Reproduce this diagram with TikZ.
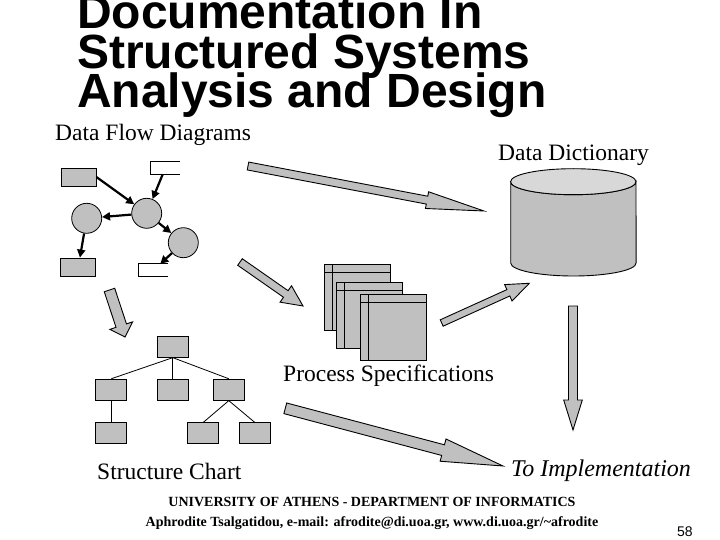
\documentclass[tikz,border=0pt]{standalone}
\usepackage{fontspec}
\setmainfont{Liberation Serif}
\setsansfont{Liberation Sans}
\usetikzlibrary{arrows.meta,calc}
\definecolor{slidegray}{RGB}{192,192,192}
\definecolor{lidgray}{RGB}{216,216,216}

% fat outlined arrow: tail, tip, half shaft, head length, half head
\newcommand{\blockarrow}[5]{%
  \path ($(#2)!#4!(#1)$) coordinate (neck);
  \draw[fat] ($(#1)!#3!90:(#2)$) -- ($(neck)!#3!90:(#2)$) -- ($(neck)!#5!90:(#2)$) -- (#2)
    -- ($(neck)!#5!-90:(#2)$) -- ($(neck)!#3!-90:(#2)$) -- ($(#1)!#3!-90:(#2)$) -- cycle;
}

\begin{document}
\begin{tikzpicture}[x=1pt, y=-1pt,
  ext/.style={draw, fill=slidegray, minimum width=35pt, minimum height=18pt, inner sep=0pt, line width=0.8pt},
  store/.style={minimum width=29pt, minimum height=12pt, inner sep=0pt},
  proc/.style={circle, draw, fill=slidegray, minimum size=30pt, inner sep=0pt, line width=0.8pt},
  flow/.style={-{Triangle[length=8pt,width=8pt]}, line width=2.2pt},
  module/.style={draw, fill=slidegray, minimum width=31pt, minimum height=21pt, inner sep=0pt, line width=0.9pt},
  call/.style={line width=0.8pt},
  fat/.style={fill=slidegray, line width=0.9pt, line join=miter},
  heading/.style={inner sep=0pt, anchor=base west, font=\sffamily\bfseries\fontsize{48}{40}\selectfont},
  caption/.style={inner sep=0pt, anchor=base west, font=\fontsize{23.5}{28}\selectfont},
  footer/.style={inner sep=0pt, anchor=base, font=\bfseries\fontsize{14}{16}\selectfont}
]
\useasboundingbox (0,0) rectangle (720,540);

% title
\node[heading] (title1) at (77,29) {Documentation In};
\node[heading] (title2) at (77,68.5) {Structured Systems};
\node[heading] (title3) at (77,108) {Analysis and Design};

% data flow diagram
\node[caption] (dfdlabel) at (55,141) {Data Flow Diagrams};
\node[ext] (ext1) at (78.5,177) {};
\node[store] (store1) at (165.3,168) {};
\draw[line width=0.8pt] (store1.north east) -| (store1.south west) -- (store1.south east);
\node[proc] (proc1) at (146.7,213.3) {};
\node[proc] (proc2) at (86.7,218.3) {};
\node[proc] (proc3) at (183.3,242.7) {};
\node[ext] (ext2) at (78.3,267) {};
\node[store] (store2) at (153.5,270) {};
\draw[line width=0.8pt] (store2.north east) -| (store2.south west) -- (store2.south east);
\draw[flow] (ext1.east) -- (proc1);
\draw[flow] (store1) -- (proc1);
\draw[flow] (proc1) -- (proc2);
\draw[flow] (proc2) -- (ext2);
\draw[flow] (proc1) -- (proc3);
\draw[flow] (proc3) -- (store2);

% data dictionary
\node[caption] (dictlabel) at (498,161) {Data Dictionary};
\draw[fill=slidegray, line width=0.9pt] (510.7,181.7) -- (510.7,263)
  arc[start angle=180, end angle=0, x radius=62.7, y radius=13] -- (636,181.7)
  arc[start angle=0, end angle=180, x radius=62.7, y radius=13] -- cycle;
\draw[fill=lidgray, line width=0.9pt] (573.3,181.7) ellipse[x radius=62.7, y radius=13];

% process specifications
\foreach \px/\py in {324.3/264, 336/282.3, 360/294.3} {
  \draw[fill=slidegray, line width=0.9pt] (\px,\py) rectangle ++(66.5,66);
  \draw[line width=0.9pt] (\px,\py+8) -- ++(66.5,0);
  \draw[line width=0.9pt] (\px+8,\py) -- ++(0,66);
}
\node[caption] (speclabel) at (283,381) {Process Specifications};

% structure chart
\node[module] (sc0) at (172.8,346.7) {};
\node[module] (sc1) at (111.3,389.7) {};
\node[module] (sc2) at (172.8,389.7) {};
\node[module] (sc3) at (228.8,389.7) {};
\node[module] (sc4) at (111.3,433.3) {};
\node[module] (sc5) at (203.3,433.3) {};
\node[module] (sc6) at (254.7,433.3) {};
\draw[call] (sc0.south) -- (sc1.north);
\draw[call] (sc0.south) -- (sc2.north);
\draw[call] (sc0.south) -- (sc3.north);
\draw[call] (sc1.south) -- (sc4.north);
\draw[call] (sc3.south) -- (sc5.north);
\draw[call] (sc3.south) -- (sc6.north);
\node[caption] (chartlabel) at (97,479) {Structure Chart};

\node[caption, font=\itshape\fontsize{24}{28}\selectfont] (implabel) at (511,476) {To Implementation};

% big arrows
\coordinate (dfd2dict) at (248,166);   \coordinate (dict1) at (484,211);
\coordinate (dfd2spec) at (240,262);   \coordinate (spec1) at (303,306);
\coordinate (spec2dict) at (441.7,323); \coordinate (dict2) at (529.3,283.3);
\coordinate (dfd2chart) at (109.5,290); \coordinate (chart1) at (125,337);
\coordinate (spec2imp) at (285.3,408.3); \coordinate (imp1) at (503,466);
\coordinate (dict2imp) at (573,306);   \coordinate (imp2) at (573,430);
\blockarrow{dfd2dict}{dict1}{4pt}{58pt}{8.5pt}
\blockarrow{dfd2spec}{spec1}{4pt}{21pt}{10pt}
\blockarrow{spec2dict}{dict2}{3.5pt}{23pt}{9pt}
\blockarrow{dfd2chart}{chart1}{5.5pt}{12pt}{12pt}
\blockarrow{spec2imp}{imp1}{5.5pt}{62pt}{11.5pt}
\blockarrow{dict2imp}{imp2}{4.5pt}{30pt}{9.3pt}

% footer
\node[footer] (uni) at (372,506) {UNIVERSITY OF ATHENS - DEPARTMENT OF INFORMATICS};
\node[footer] (author) at (372,526) {Aphrodite Tsalgatidou, e-mail: afrodite@di.uoa.gr, www.di.uoa.gr/\textasciitilde afrodite};
\node[inner sep=0pt, anchor=base west, font=\sffamily\fontsize{14}{16}\selectfont] (pageno) at (677,536) {58};
\end{tikzpicture}
\end{document}
